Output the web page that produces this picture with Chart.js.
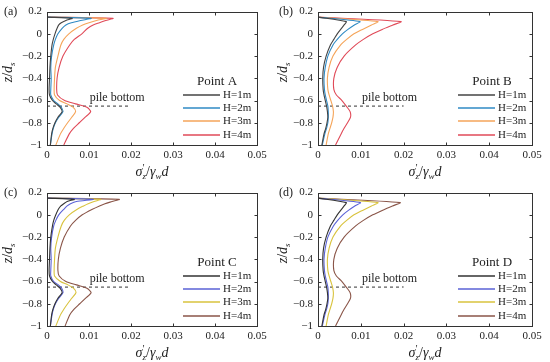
<!DOCTYPE html>
<html><head><meta charset="utf-8">
<script src="https://cdn.jsdelivr.net/npm/chart.js@4/dist/chart.umd.min.js"></script>
<style>
html,body{margin:0;padding:0;background:#fff;}
.p{position:absolute;width:275px;height:181px;}
</style></head>
<body>
<div class="p" style="left:0;top:0"><canvas id="ca" width="275" height="181"></canvas></div>
<div class="p" style="left:275px;top:0"><canvas id="cb" width="275" height="181"></canvas></div>
<div class="p" style="left:0;top:181px"><canvas id="cc" width="275" height="181"></canvas></div>
<div class="p" style="left:275px;top:181px"><canvas id="cd" width="275" height="181"></canvas></div>
<script>
// ---------- data ----------
const seriesLabels = ['H=1m', 'H=2m', 'H=3m', 'H=4m'];
const xTicks = [0, 0.01, 0.02, 0.03, 0.04, 0.05];
const yTicks = [0.2, 0, -0.2, -0.4, -0.6, -0.8, -1];
const pileX = [0, 0.02];
const pileZ = [-0.65, -0.65];
const pileLabel = 'pile bottom';

// depths for panels (a) and (c)
const zAC = [0.15, 0.14, 0.12, 0.10, 0.08, 0.05, 0.00, -0.05, -0.10, -0.20, -0.30, -0.40, -0.50, -0.55, -0.60, -0.63, -0.66, -0.70, -0.75, -0.80, -0.85, -0.90, -1.00];
// depths for panels (b) and (d)
const zBD = [0.15, 0.11, 0.08, 0.04, 0.00, -0.05, -0.10, -0.20, -0.30, -0.40, -0.50, -0.55, -0.60, -0.65, -0.70, -0.75, -0.80, -0.85, -0.90, -1.00];

// Point A
const a_H1 = [0, 0.0060, 0.0045, 0.0034, 0.0028, 0.0024, 0.0019, 0.0015, 0.0012, 0.0009, 0.0007, 0.0006, 0.0005, 0.0006, 0.0013, 0.0022, 0.0031, 0.0036, 0.0026, 0.0019, 0.0014, 0.0011, 0.0008];
const a_H2 = [0, 0.0105, 0.0080, 0.0058, 0.0045, 0.0036, 0.0026, 0.0020, 0.0016, 0.0011, 0.0009, 0.0010, 0.0009, 0.0009, 0.0016, 0.0026, 0.0034, 0.0038, 0.0028, 0.0020, 0.0015, 0.0012, 0.0008];
const a_H3 = [0, 0.0141, 0.0118, 0.0100, 0.0085, 0.0070, 0.0052, 0.0040, 0.0033, 0.0026, 0.0020, 0.0018, 0.0017, 0.0018, 0.0030, 0.0048, 0.0062, 0.0068, 0.0059, 0.0049, 0.0040, 0.0032, 0.0021];
const a_H4 = [0, 0.0157, 0.0140, 0.0125, 0.0110, 0.0097, 0.0083, 0.0065, 0.0054, 0.0038, 0.0029, 0.0024, 0.0023, 0.0025, 0.0042, 0.0068, 0.0095, 0.0104, 0.0091, 0.0077, 0.0063, 0.0053, 0.0040];

// Point B
const b_H1 = [0, 0.0066, 0.0061, 0.0053, 0.0045, 0.0037, 0.0029, 0.0019, 0.0013, 0.0011, 0.0012, 0.0014, 0.0017, 0.0020, 0.0022, 0.0023, 0.0021, 0.0018, 0.0014, 0.0009];
const b_H2 = [0, 0.0098, 0.0085, 0.0070, 0.0057, 0.0045, 0.0035, 0.0023, 0.0017, 0.0014, 0.0015, 0.0017, 0.0020, 0.0023, 0.0024, 0.0024, 0.0023, 0.0020, 0.0016, 0.0010];
const b_H3 = [0, 0.0140, 0.0125, 0.0104, 0.0084, 0.0067, 0.0053, 0.0035, 0.0026, 0.0022, 0.0023, 0.0026, 0.0030, 0.0034, 0.0036, 0.0035, 0.0032, 0.0028, 0.0024, 0.0019];
const b_H4 = [0, 0.0194, 0.0175, 0.0150, 0.0128, 0.0106, 0.0088, 0.0061, 0.0045, 0.0037, 0.0037, 0.0043, 0.0056, 0.0066, 0.0075, 0.0076, 0.0069, 0.0061, 0.0054, 0.0041];

// Point C
const c_H1 = [0, 0.0065, 0.0048, 0.0040, 0.0033, 0.0027, 0.0021, 0.0016, 0.0013, 0.0009, 0.0007, 0.0006, 0.0005, 0.0006, 0.0013, 0.0022, 0.0031, 0.0036, 0.0026, 0.0019, 0.0014, 0.0011, 0.0008];
const c_H2 = [0, 0.0110, 0.0070, 0.0056, 0.0048, 0.0040, 0.0028, 0.0021, 0.0016, 0.0011, 0.0009, 0.0010, 0.0009, 0.0009, 0.0016, 0.0027, 0.0035, 0.0038, 0.0028, 0.0020, 0.0015, 0.0012, 0.0008];
const c_H3 = [0, 0.0128, 0.0112, 0.0098, 0.0087, 0.0072, 0.0053, 0.0041, 0.0034, 0.0026, 0.0020, 0.0018, 0.0017, 0.0018, 0.0032, 0.0050, 0.0063, 0.0069, 0.0059, 0.0049, 0.0040, 0.0032, 0.0021];
const c_H4 = [0, 0.0172, 0.0155, 0.0138, 0.0125, 0.0108, 0.0084, 0.0068, 0.0056, 0.0041, 0.0032, 0.0027, 0.0026, 0.0029, 0.0045, 0.0070, 0.0095, 0.0105, 0.0092, 0.0078, 0.0064, 0.0054, 0.0043];

// Point D
const d_H1 = [0, 0.0066, 0.0061, 0.0053, 0.0045, 0.0037, 0.0029, 0.0019, 0.0013, 0.0011, 0.0012, 0.0014, 0.0017, 0.0020, 0.0022, 0.0023, 0.0021, 0.0018, 0.0014, 0.0009];
const d_H2 = [0, 0.0099, 0.0086, 0.0071, 0.0058, 0.0046, 0.0036, 0.0023, 0.0017, 0.0014, 0.0015, 0.0017, 0.0020, 0.0023, 0.0024, 0.0024, 0.0023, 0.0020, 0.0016, 0.0010];
const d_H3 = [0, 0.0140, 0.0125, 0.0104, 0.0084, 0.0067, 0.0053, 0.0035, 0.0026, 0.0022, 0.0023, 0.0026, 0.0030, 0.0034, 0.0036, 0.0035, 0.0032, 0.0028, 0.0024, 0.0019];
const d_H4 = [0, 0.0192, 0.0174, 0.0150, 0.0128, 0.0106, 0.0088, 0.0061, 0.0045, 0.0037, 0.0037, 0.0043, 0.0056, 0.0066, 0.0075, 0.0076, 0.0069, 0.0061, 0.0054, 0.0041];

const colorsAB = ['#444444', '#2f8ac4', '#f5a55a', '#e04a58'];
const colorsCD = ['#333333', '#5a62d6', '#d9c33e', '#8a5548'];

// ---------- drawing ----------
const SERIF = '"Liberation Serif", "Times New Roman", serif';
const panelInfo = {};

function pts(xs, zs) { return zs.map((z, i) => ({ x: xs[i], y: z })); }

function fmtY(v) {
  const r = Math.round(v * 10) / 10;
  if (r === 0) return '0';
  return (r < 0 ? '\u2212' : '') + String(Math.abs(r));
}
function fmtX(v) {
  const r = Math.round(v * 100) / 100;
  return r === 0 ? '0' : String(r);
}

function drawSegs(ctx, segs, cx, cy) {
  let w = 0;
  segs.forEach(s => { ctx.font = s[1] + ' ' + s[2] + 'px ' + SERIF; s.w = ctx.measureText(s[0]).width; if (s[4] !== false) w += s.w; });
  let x = cx - w / 2;
  segs.forEach(s => {
    ctx.font = s[1] + ' ' + s[2] + 'px ' + SERIF;
    ctx.fillText(s[0], x, cy + s[3]);
    if (s[4] !== false) x += s.w;
  });
}

const panelPlugin = {
  id: 'panelDeco',
  afterDraw(chart) {
    const info = panelInfo[chart.canvas.id];
    const ctx = chart.ctx, a = chart.chartArea, xs = chart.scales.x, ys = chart.scales.y;
    ctx.save();
    ctx.strokeStyle = '#333'; ctx.lineWidth = 1;
    const L = Math.round(a.left) + 0.5, T = Math.round(a.top) + 0.5, R = Math.round(a.right) + 0.5, B = Math.round(a.bottom) + 0.5;
    ctx.strokeRect(L, T, R - L, B - T);
    ctx.beginPath();
    xTicks.forEach(v => { const p = Math.round(xs.getPixelForValue(v)) + 0.5; ctx.moveTo(p, B); ctx.lineTo(p, B - 3); ctx.moveTo(p, T); ctx.lineTo(p, T + 3); });
    yTicks.forEach(v => { const p = Math.round(ys.getPixelForValue(v)) + 0.5; ctx.moveTo(L, p); ctx.lineTo(L + 3, p); ctx.moveTo(R, p); ctx.lineTo(R - 3, p); });
    ctx.stroke();

    ctx.fillStyle = '#222';
    ctx.textBaseline = 'middle';
    ctx.textAlign = 'left';
    ctx.font = '12px ' + SERIF;
    ctx.fillText(info.tag, 4, ys.getPixelForValue(0.2));

    ctx.textAlign = 'center';
    ctx.font = '12px ' + SERIF;
    ctx.fillText(pileLabel, xs.getPixelForValue(0.0167), ys.getPixelForValue(-0.58));

    const lx0 = a.right - 74, lx1 = a.right - 37, tx = a.right - 34;
    ctx.font = '13px ' + SERIF;
    ctx.textAlign = 'center';
    ctx.fillText(info.title, a.right - 40, a.top + 70);
    ctx.font = '11px ' + SERIF;
    ctx.textAlign = 'left';
    for (let i = 0; i < seriesLabels.length; i++) {
      const yy = Math.round(a.top + 83 + i * 13.3);
      ctx.beginPath();
      ctx.strokeStyle = info.colors[i];
      ctx.lineWidth = 1.3;
      ctx.moveTo(lx0, yy);
      ctx.lineTo(lx1, yy);
      ctx.stroke();
      ctx.fillStyle = '#222';
      ctx.fillText(seriesLabels[i], tx, yy);
    }

    ctx.textAlign = 'left';
    ctx.textBaseline = 'alphabetic';
    const cx = (a.left + a.right) / 2;
    drawSegs(ctx, [
      ['\u03C3', 'italic', 14, 0],
      ['\u2032', 'normal', 10, -5, false],
      ['z', 'italic', 9, 3],
      ['/', 'normal', 14, 0],
      ['\u03B3', 'italic', 14, 0],
      ['w', 'italic', 9, 3],
      ['d', 'italic', 14, 0]
    ], cx, 176);

    ctx.save();
    ctx.translate(12, (a.top + a.bottom) / 2 - 6);
    ctx.rotate(-Math.PI / 2);
    drawSegs(ctx, [
      ['z', 'italic', 14, 0],
      ['/', 'normal', 14, 0],
      ['d', 'italic', 14, 0],
      ['s', 'italic', 9, 3]
    ], 0, 0);
    ctx.restore();
    ctx.restore();
  }
};

function makeChart(id, tag, title, zs, series, colors, yWidth) {
  panelInfo[id] = { tag: tag, title: title, colors: colors.slice() };
  const ds = series.map((xsArr, i) => ({
    label: seriesLabels[i],
    data: pts(xsArr, zs),
    borderColor: colors[i],
    borderWidth: 1.1,
    pointRadius: 0,
    showLine: true,
    tension: 0.25,
    fill: false
  }));
  ds.push({
    label: pileLabel,
    data: pts(pileX, pileZ),
    borderColor: '#333',
    borderWidth: 1,
    borderDash: [3, 3],
    pointRadius: 0,
    showLine: true,
    tension: 0
  });
  return new Chart(document.getElementById(id), {
    type: 'scatter',
    data: { datasets: ds },
    options: {
      responsive: false,
      animation: false,
      devicePixelRatio: 1,
      layout: { padding: { top: 7, right: 18, left: 0, bottom: 0 } },
      plugins: {
        legend: { display: false },
        tooltip: { enabled: false }
      },
      scales: {
        x: {
          type: 'linear', min: 0, max: 0.05,
          afterBuildTicks: s => { s.ticks = xTicks.map(v => ({ value: v })); },
          afterFit: s => { s.height = 36; },
          grid: { display: false, drawTicks: false },
          border: { display: false },
          ticks: { callback: v => fmtX(v), font: { family: SERIF, size: 11 }, color: '#222', padding: 4, maxRotation: 0 }
        },
        y: {
          type: 'linear', min: -1, max: 0.2,
          afterBuildTicks: s => { s.ticks = yTicks.map(v => ({ value: v })); },
          afterFit: s => { s.width = yWidth; },
          grid: { display: false, drawTicks: false },
          border: { display: false },
          ticks: { callback: v => fmtY(v), font: { family: SERIF, size: 11 }, color: '#222', padding: 5 }
        }
      }
    },
    plugins: [panelPlugin]
  });
}

makeChart('ca', '(a)', 'Point A', zAC, [a_H1, a_H2, a_H3, a_H4], colorsAB, 47);
makeChart('cb', '(b)', 'Point B', zBD, [b_H1, b_H2, b_H3, b_H4], colorsAB, 43);
makeChart('cc', '(c)', 'Point C', zAC, [c_H1, c_H2, c_H3, c_H4], colorsCD, 47);
makeChart('cd', '(d)', 'Point D', zBD, [d_H1, d_H2, d_H3, d_H4], colorsCD, 43);
</script>
</body></html>
